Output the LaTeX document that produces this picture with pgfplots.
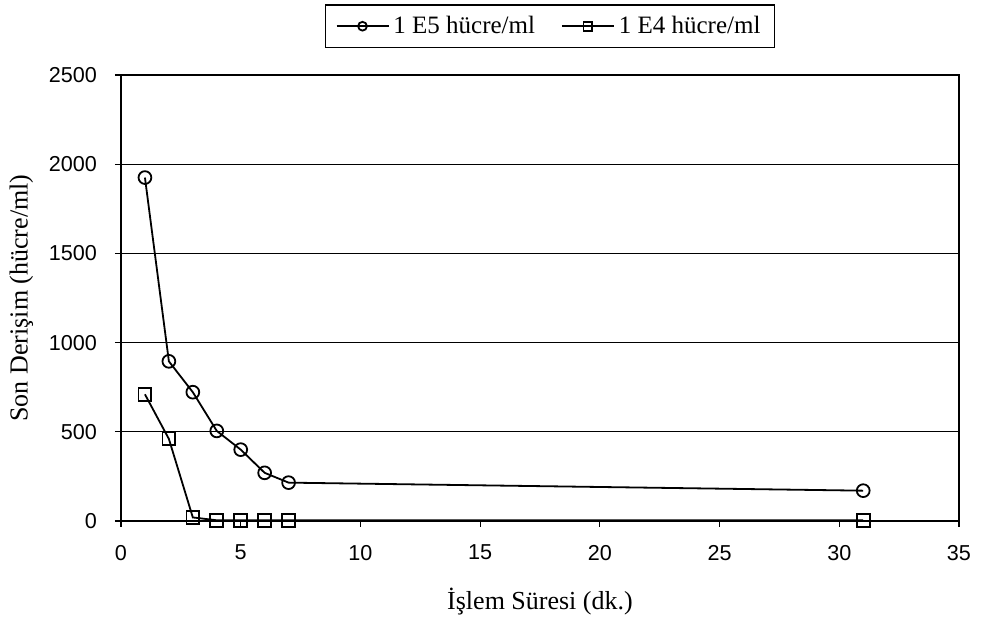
\documentclass[border=0pt]{standalone}
\usepackage{fontspec}
\setmainfont{Liberation Serif}
\newfontfamily\arialfont{Liberation Sans}
\usepackage{pgfplots}
\pgfplotsset{compat=1.18}
\begin{document}
\begin{tikzpicture}[x=1pt,y=1pt]
\path (-60.5pt,-50pt) rectangle (438pt,260.5pt);
\begin{axis}[
  at={(0,0)}, anchor=south west,
  scale only axis, width=419pt, height=223pt,
  xmin=0, xmax=35, ymin=0, ymax=2500,
  xtick={0,5,...,35}, ytick={0,500,...,2500},
  xtick pos=bottom, ytick pos=left,
  ymajorgrids, major grid style={black, line width=0.6pt},
  axis line style={black, line width=0.8pt},
  tick style={black, line width=0.6pt},
  tick align=outside, major tick length=3pt,
  /pgf/number format/assume math mode=true,
  scaled ticks=false,
  yticklabel style={/pgf/number format/1000 sep={}, xshift=-5.5pt},
  xticklabel style={/pgf/number format/1000 sep={}, yshift=-5.5pt},
  tick label style={font=\arialfont\fontsize{10.8}{12}\selectfont},
  label style={font=\fontsize{13}{15}\selectfont},
  xlabel={İşlem Süresi (dk.)},
  ylabel={Son Derişim (hücre/ml)},
  xlabel style={yshift=-7pt},
  ylabel style={yshift=1pt},
  legend columns=2,
  legend style={at={(0.512,1)}, anchor=south, yshift=13.5pt, draw=black, line width=0.6pt,
    font=\fontsize{12.5}{14}\selectfont, inner xsep=5pt, inner ysep=3.5pt,
    /tikz/every even column/.append style={column sep=11pt}},
  legend image code/.code={\draw[#1] (0pt,0pt) -- (26pt,0pt); \draw[#1,mark repeat=1,mark size=2.2pt] plot coordinates {(13pt,0pt)};},
]
\addplot[black, line width=0.9pt, mark=o, mark size=3.2pt, mark options={fill=white, line width=0.9pt}]
  coordinates {(1,1925) (2,895) (3,722) (4,505) (5,400) (6,270) (7,215) (31,170)};
\addlegendentry{1 E5 hücre/ml}
\addplot[black, line width=0.9pt, mark=square, mark size=3.2pt, mark options={fill=white, line width=0.9pt}]
  coordinates {(1,710) (2,460) (3,20) (4,4) (5,4) (6,4) (7,4) (31,4)};
\addlegendentry{1 E4 hücre/ml}
\end{axis}
\end{tikzpicture}
\end{document}
